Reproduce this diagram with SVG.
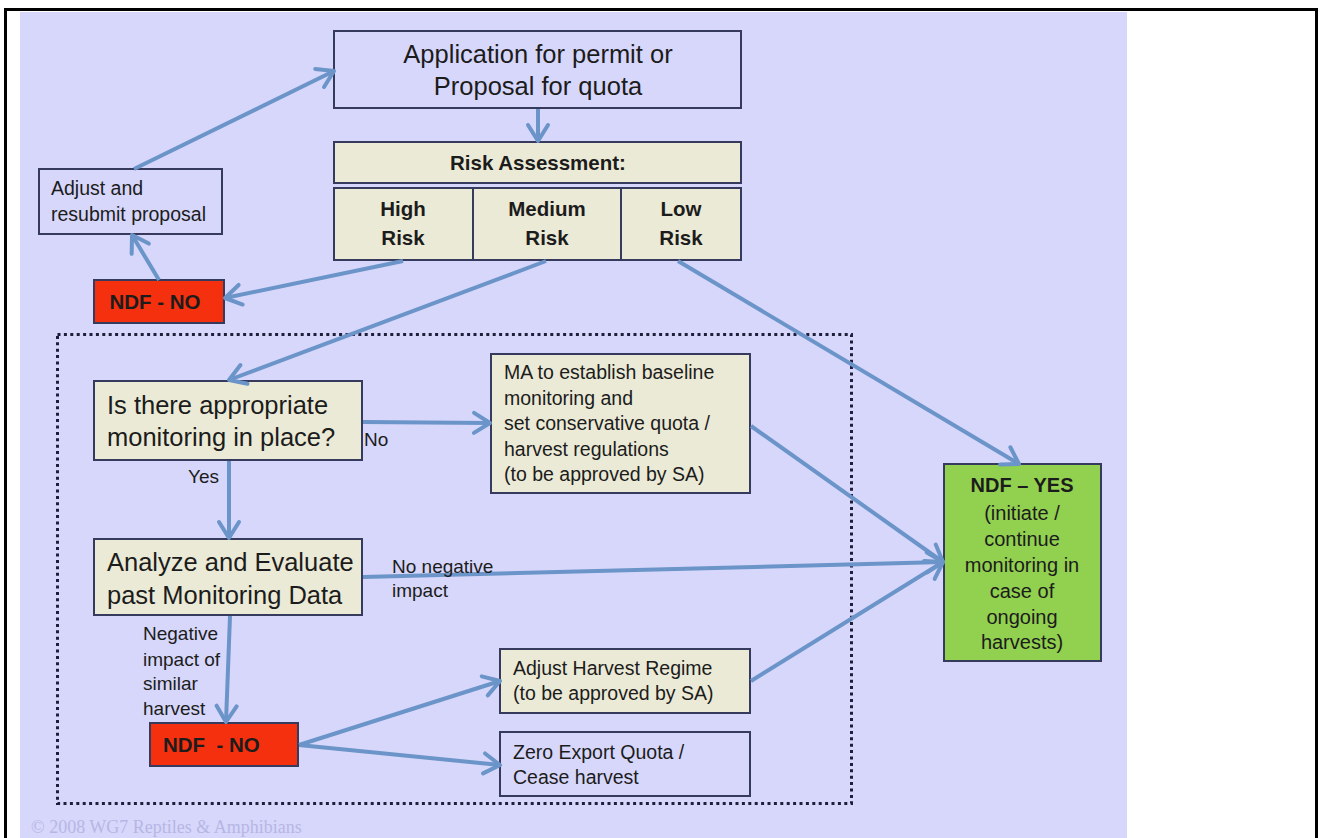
<svg xmlns="http://www.w3.org/2000/svg" width="1322" height="838" viewBox="0 0 1322 838">
<defs>
<marker id="ah" markerUnits="userSpaceOnUse" markerWidth="22" markerHeight="26" viewBox="0 0 22 26" refX="19" refY="13" orient="auto">
<path d="M3,3 L19,13 L3,23" fill="none" stroke="#6b94c9" stroke-width="4" stroke-linecap="round" stroke-linejoin="round"/>
</marker>
</defs>
<style>
.box{stroke:#363a5c;stroke-width:2}
.lav{fill:#d7d7fb}
.beige{fill:#ebead6}
.red{fill:#f5300f}
.green{fill:#92d050}
.t{font-family:"Liberation Sans",Arial,sans-serif;fill:#1c1c1c}
.big{font-size:25.5px}
.mid{font-size:19.5px}
.lbl{font-size:19px}
.b{font-weight:bold;font-size:20.5px}
.c{text-anchor:middle}
.con line{stroke:#6b94c9;stroke-width:4;marker-end:url(#ah)}
</style>
<rect x="0" y="0" width="1322" height="838" fill="#ffffff"/>
<rect x="5.5" y="9.5" width="1311" height="840" fill="none" stroke="#000" stroke-width="3"/>
<rect x="20" y="12" width="1107" height="826" fill="#d7d7fb"/>
<text x="31" y="833" font-family="'Liberation Serif',serif" font-size="18" fill="#b6b6e4">© 2008 WG7 Reptiles &amp; Amphibians</text>
<rect id="scope" x="57.5" y="334.5" width="794" height="469" fill="none" stroke="#1e1e3a" stroke-width="3" stroke-dasharray="3 3.4"/>

<g id="application">
<rect class="box lav" x="334" y="31" width="407" height="77"/>
<text class="t big c" x="538" y="63">Application for permit or</text>
<text class="t big c" x="538" y="95">Proposal for quota</text>
</g>
<g id="risk-assessment">
<rect class="box beige" x="334" y="142" width="407" height="41"/>
<text class="t b c" x="538" y="170">Risk Assessment:</text>
</g>
<g id="high-risk">
<rect class="box beige" x="334" y="188" width="139" height="72"/>
<text class="t b c" x="403" y="216">High</text>
<text class="t b c" x="403" y="245">Risk</text>
</g>
<g id="medium-risk">
<rect class="box beige" x="473" y="188" width="148" height="72"/>
<text class="t b c" x="547" y="216">Medium</text>
<text class="t b c" x="547" y="245">Risk</text>
</g>
<g id="low-risk">
<rect class="box beige" x="621" y="188" width="120" height="72"/>
<text class="t b c" x="681" y="216">Low</text>
<text class="t b c" x="681" y="245">Risk</text>
</g>
<g id="adjust-resubmit">
<rect class="box lav" x="39" y="169" width="183" height="65"/>
<text class="t mid" x="51" y="195">Adjust and</text>
<text class="t mid" x="51" y="221">resubmit proposal</text>
</g>
<g id="ndf-no-top">
<rect class="box red" x="94" y="280" width="130" height="43"/>
<text class="t b c" x="155" y="309" fill="#1a0500">NDF - NO</text>
</g>
<g id="monitoring-question">
<rect class="box beige" x="94" y="381" width="268" height="79"/>
<text class="t big" x="107" y="414">Is there appropriate</text>
<text class="t big" x="107" y="446">monitoring in place?</text>
</g>
<g id="ma-baseline">
<rect class="box beige" x="491" y="354" width="259" height="139"/>
<text class="t mid" x="504" y="379">MA to establish baseline</text>
<text class="t mid" x="504" y="405">monitoring and</text>
<text class="t mid" x="504" y="430">set conservative quota /</text>
<text class="t mid" x="504" y="456">harvest regulations</text>
<text class="t mid" x="504" y="481">(to be approved by SA)</text>
</g>
<g id="analyze">
<rect class="box beige" x="94" y="539" width="268" height="76"/>
<text class="t big" x="107" y="571">Analyze and Evaluate</text>
<text class="t big" x="107" y="604">past Monitoring Data</text>
</g>
<g id="ndf-yes">
<rect class="box green" x="944" y="464" width="157" height="197"/>
<text class="t c" x="1022" y="492" font-size="20" font-weight="bold">NDF – YES</text>
<text class="t c" x="1022" y="520" font-size="20">(initiate /</text>
<text class="t c" x="1022" y="546" font-size="20">continue</text>
<text class="t c" x="1022" y="572" font-size="20">monitoring in</text>
<text class="t c" x="1022" y="598" font-size="20">case of</text>
<text class="t c" x="1022" y="624" font-size="20">ongoing</text>
<text class="t c" x="1022" y="649" font-size="20">harvests)</text>
</g>
<g id="ndf-no-bottom">
<rect class="box red" x="150" y="723" width="148" height="43"/>
<text class="t b" x="163" y="752" fill="#1a0500" xml:space="preserve">NDF  - NO</text>
</g>
<g id="adjust-harvest">
<rect class="box beige" x="500" y="649" width="250" height="64"/>
<text class="t mid" x="513" y="675">Adjust Harvest Regime</text>
<text class="t mid" x="513" y="700">(to be approved by SA)</text>
</g>
<g id="zero-export">
<rect class="box lav" x="500" y="732" width="250" height="64"/>
<text class="t mid" x="513" y="759">Zero Export Quota /</text>
<text class="t mid" x="513" y="784">Cease harvest</text>
</g>

<g id="connectors" class="con">
<line x1="538" y1="109" x2="538" y2="141"/>
<line x1="134" y1="169" x2="334" y2="71"/>
<line x1="159" y1="280" x2="132" y2="235"/>
<line x1="403" y1="261" x2="225" y2="298"/>
<line x1="546" y1="261" x2="229" y2="380"/>
<line x1="678" y1="261" x2="1019" y2="464"/>
<line x1="363" y1="422" x2="490" y2="423"/>
<line x1="229" y1="461" x2="229" y2="538"/>
<line x1="751" y1="426" x2="943" y2="562"/>
<line x1="363" y1="577" x2="943" y2="562"/>
<line x1="751" y1="681" x2="943" y2="562"/>
<line x1="230" y1="616" x2="226" y2="722"/>
<line x1="299" y1="745" x2="500" y2="681"/>
<line x1="299" y1="745" x2="500" y2="765"/>
</g>
<g id="labels">
<text class="t lbl" x="364" y="446">No</text>
<text class="t lbl" x="188" y="483">Yes</text>
<text class="t lbl" x="392" y="573">No negative</text>
<text class="t lbl" x="392" y="597">impact</text>
<text class="t lbl" x="143" y="640">Negative</text>
<text class="t lbl" x="143" y="666">impact of</text>
<text class="t lbl" x="143" y="690">similar</text>
<text class="t lbl" x="143" y="715">harvest</text>
</g>
</svg>
